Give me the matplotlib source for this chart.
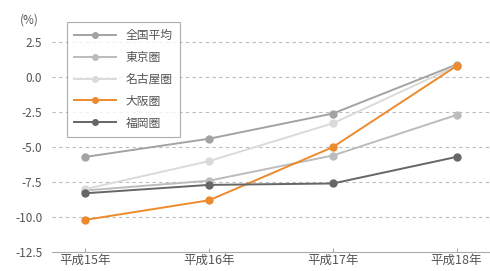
import matplotlib.pyplot as plt

plt.rcParams['font.family'] = ['Noto Sans CJK JP', 'DejaVu Sans']

years = ['平成15年', '平成16年', '平成17年', '平成18年']
zenkoku = [-5.7, -4.4, -2.6, 0.9]
tokyo = [-8.1, -7.4, -5.6, -2.7]
nagoya = [-8.0, -6.0, -3.3, 0.8]
osaka = [-10.2, -8.8, -5.0, 0.8]
fukuoka = [-8.3, -7.7, -7.6, -5.7]

series = [
    ('全国平均', zenkoku, '#a3a3a3'),
    ('東京圏', tokyo, '#bcbcbc'),
    ('名古屋圏', nagoya, '#dadada'),
    ('大阪圏', osaka, '#ec8a2c'),
    ('福岡圏', fukuoka, '#666666'),
]

fig = plt.figure(figsize=(4.9, 2.71), dpi=100)
ax = fig.add_axes([0.106, 0.07, 0.894, 0.893])

x = list(range(len(years)))
for name, vals, col in series:
    ax.plot(x, vals, color=col, lw=1.4, marker='o', ms=5, label=name)

ax.set_xlim(-0.27, 3.27)
ax.set_ylim(-12.5, 4.8)
ax.set_yticks([2.5, 0.0, -2.5, -5.0, -7.5, -10.0, -12.5])
ax.set_yticklabels(['2.5', '0.0', '-2.5', '-5.0', '-7.5', '-10.0', '-12.5'])
ax.set_xticks(x)
ax.set_xticklabels(years)
ax.tick_params(axis='y', length=0, labelsize=8.5, colors='#555555', pad=7)
ax.tick_params(axis='x', direction='in', length=3, color='#aaaaaa',
               labelsize=9, colors='#555555', pad=1)

for v in [2.5, 0.0, -2.5, -5.0, -7.5, -10.0]:
    ax.axhline(v, color='#bbbbbb', lw=0.8, ls=(0, (3, 3)), zorder=0)

for s in ['top', 'right', 'left']:
    ax.spines[s].set_visible(False)
ax.spines['bottom'].set_color('#aaaaaa')

fig.text(0.04, 0.915, '(%)', fontsize=8.5, color='#555555')

leg = ax.legend(loc='upper left', bbox_to_anchor=(0.02, 0.975), fontsize=8.5,
                frameon=True, fancybox=False, handlelength=3.6, markerscale=0.8,
                labelspacing=0.75, borderpad=0.6, labelcolor='#555555')
leg.get_frame().set_edgecolor('#999999')
leg.get_frame().set_linewidth(0.8)

fig.savefig('out.png', dpi=100)
